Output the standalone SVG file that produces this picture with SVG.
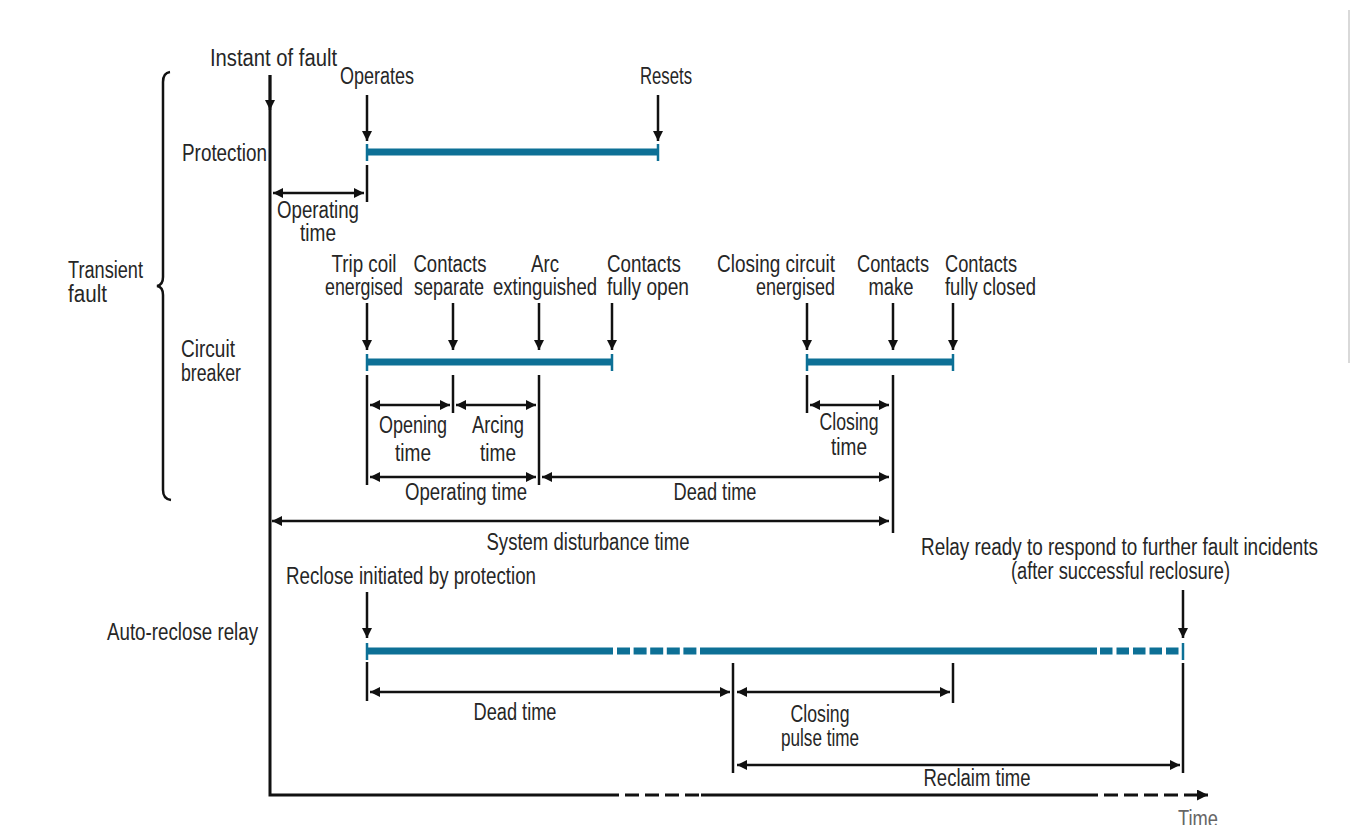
<svg xmlns="http://www.w3.org/2000/svg" width="1356" height="825" viewBox="0 0 1356 825">
<defs>
<style>
text{font-family:"Liberation Sans","DejaVu Sans",sans-serif;font-size:23px;fill:#262626;lengthAdjust:spacingAndGlyphs}
.m{text-anchor:middle}
.e{text-anchor:end}
.ln{stroke:#111;stroke-width:2.5;fill:none}
.ax{stroke:#111;stroke-width:3;fill:none}
.dn{stroke:#111;stroke-width:2.5;fill:none;marker-end:url(#ah)}
.dbl{stroke:#111;stroke-width:2.5;fill:none;marker-start:url(#ahs);marker-end:url(#ah)}
.bar{stroke:#0d7096;stroke-width:7;fill:none}
.tk{stroke:#0d7096;stroke-width:2.5;fill:none}
</style>
<marker id="ah" viewBox="0 0 10 10" refX="10" refY="5" markerWidth="14" markerHeight="10" markerUnits="userSpaceOnUse" orient="auto"><path d="M0,0 L10,5 L0,10 Z" fill="#111"/></marker>
<marker id="ahs" viewBox="0 0 10 10" refX="0" refY="5" markerWidth="14" markerHeight="10" markerUnits="userSpaceOnUse" orient="auto"><path d="M10,0 L0,5 L10,10 Z" fill="#111"/></marker>
<marker id="ahd" viewBox="0 0 10 10" refX="10" refY="5" markerWidth="16" markerHeight="11" markerUnits="userSpaceOnUse" orient="auto"><path d="M0,0 L10,5 L0,10 Z" fill="#111"/></marker>
</defs>
<rect width="1356" height="825" fill="#ffffff"/>
<line x1="1349" y1="10" x2="1349" y2="363" stroke="#d9d9d9" stroke-width="2"/>

<g id="connectors">
  <!-- axes -->
  <path class="ax" d="M270,75 V795 H605"/>
  <path class="ax" d="M605,795 H701" stroke-dasharray="14,6"/>
  <path class="ax" d="M701,795 H1084"/>
  <path class="ax" d="M1084,795 H1208" stroke-dasharray="14,6" style="marker-end:url(#ahd)"/>
  <!-- brace -->
  <path class="ln" d="M170,72 Q163,73 163,82 L163,277 Q163,285 157,286 Q163,287 163,295 L163,490 Q163,499 171,500"/>
  <!-- down arrows -->
  <line class="dn" x1="270" y1="75" x2="270" y2="110"/>
  <line class="dn" x1="367" y1="95" x2="367" y2="141"/>
  <line class="dn" x1="658" y1="95" x2="658" y2="141"/>
  <line class="dn" x1="367" y1="303" x2="367" y2="350"/>
  <line class="dn" x1="453" y1="303" x2="453" y2="350"/>
  <line class="dn" x1="539" y1="303" x2="539" y2="350"/>
  <line class="dn" x1="612" y1="303" x2="612" y2="350"/>
  <line class="dn" x1="807" y1="303" x2="807" y2="350"/>
  <line class="dn" x1="893" y1="303" x2="893" y2="350"/>
  <line class="dn" x1="953" y1="303" x2="953" y2="350"/>
  <line class="dn" x1="367" y1="592" x2="367" y2="638"/>
  <line class="dn" x1="1183" y1="590" x2="1183" y2="638"/>
  <!-- blue bars -->
  <line class="bar" x1="367" y1="152" x2="658" y2="152"/>
  <line class="tk" x1="367" y1="144" x2="367" y2="161"/>
  <line class="tk" x1="658" y1="144" x2="658" y2="161"/>
  <line class="bar" x1="367" y1="362" x2="612" y2="362"/>
  <line class="tk" x1="367" y1="354" x2="367" y2="371"/>
  <line class="tk" x1="612" y1="354" x2="612" y2="371"/>
  <line class="bar" x1="807" y1="362" x2="953" y2="362"/>
  <line class="tk" x1="807" y1="354" x2="807" y2="371"/>
  <line class="tk" x1="953" y1="354" x2="953" y2="371"/>
  <line class="bar" x1="367" y1="651" x2="613" y2="651"/>
  <line class="bar" x1="617" y1="651" x2="697" y2="651" stroke-dasharray="13,3.6"/>
  <line class="bar" x1="700" y1="651" x2="1097" y2="651"/>
  <line class="bar" x1="1100" y1="651" x2="1183" y2="651" stroke-dasharray="12.5,4"/>
  <line class="tk" x1="367" y1="643" x2="367" y2="660"/>
  <line class="tk" x1="1183" y1="643" x2="1183" y2="660"/>
  <!-- verticals -->
  <line class="ln" x1="367" y1="165" x2="367" y2="202"/>
  <line class="ln" x1="367" y1="375" x2="367" y2="485"/>
  <line class="ln" x1="453" y1="375" x2="453" y2="413"/>
  <line class="ln" x1="539" y1="375" x2="539" y2="485"/>
  <line class="ln" x1="807" y1="375" x2="807" y2="413"/>
  <line class="ln" x1="893" y1="375" x2="893" y2="533"/>
  <line class="ln" x1="367" y1="662" x2="367" y2="701" stroke-width="3"/>
  <line class="ln" x1="733" y1="663" x2="733" y2="773" stroke-width="2"/>
  <line class="ln" x1="953" y1="663" x2="953" y2="703" stroke-width="2"/>
  <line class="ln" x1="1183" y1="663" x2="1183" y2="773" stroke-width="2"/>
  <!-- double arrows -->
  <line class="dbl" x1="273" y1="193" x2="364" y2="193"/>
  <line class="dbl" x1="370" y1="405" x2="450" y2="405"/>
  <line class="dbl" x1="456" y1="405" x2="536" y2="405"/>
  <line class="dbl" x1="810" y1="405" x2="889" y2="405"/>
  <line class="dbl" x1="370" y1="477" x2="536" y2="477"/>
  <line class="dbl" x1="542" y1="477" x2="889" y2="477"/>
  <line class="dbl" x1="272" y1="521" x2="889" y2="521"/>
  <line class="dbl" x1="370" y1="692" x2="730" y2="692" stroke-width="1.8"/>
  <line class="dbl" x1="737" y1="692" x2="950" y2="692"/>
  <line class="dbl" x1="737" y1="765" x2="1180" y2="765" stroke-width="1.8"/>
</g>

<g id="labels-left">
  <text x="68" y="278" textLength="75" lengthAdjust="spacingAndGlyphs">Transient</text>
  <text x="68" y="302" textLength="39" lengthAdjust="spacingAndGlyphs">fault</text>
  <text x="182" y="161" textLength="85" lengthAdjust="spacingAndGlyphs">Protection</text>
  <text x="181" y="357" textLength="54" lengthAdjust="spacingAndGlyphs">Circuit</text>
  <text x="181" y="381" textLength="60" lengthAdjust="spacingAndGlyphs">breaker</text>
  <text x="107" y="640" textLength="151" lengthAdjust="spacingAndGlyphs">Auto-reclose relay</text>
</g>
<g id="node-instant"><text x="210" y="66" textLength="127" lengthAdjust="spacingAndGlyphs">Instant of fault</text></g>
<g id="node-operates"><text x="340" y="84" textLength="74" lengthAdjust="spacingAndGlyphs">Operates</text></g>
<g id="node-resets"><text x="640" y="84" textLength="52" lengthAdjust="spacingAndGlyphs">Resets</text></g>
<g id="node-prot-optime">
  <text class="m" x="318" y="218" textLength="82" lengthAdjust="spacingAndGlyphs">Operating</text>
  <text class="m" x="318" y="241" textLength="36" lengthAdjust="spacingAndGlyphs">time</text>
</g>
<g id="node-tripcoil">
  <text class="m" x="364" y="272" textLength="65" lengthAdjust="spacingAndGlyphs">Trip coil</text>
  <text class="m" x="364" y="295" textLength="78" lengthAdjust="spacingAndGlyphs">energised</text>
</g>
<g id="node-separate">
  <text class="m" x="450" y="272" textLength="73" lengthAdjust="spacingAndGlyphs">Contacts</text>
  <text class="m" x="449" y="295" textLength="70" lengthAdjust="spacingAndGlyphs">separate</text>
</g>
<g id="node-arc">
  <text class="m" x="545" y="272" textLength="28" lengthAdjust="spacingAndGlyphs">Arc</text>
  <text class="m" x="545" y="295" textLength="104" lengthAdjust="spacingAndGlyphs">extinguished</text>
</g>
<g id="node-fullyopen">
  <text x="607" y="272" textLength="74" lengthAdjust="spacingAndGlyphs">Contacts</text>
  <text x="607" y="295" textLength="82" lengthAdjust="spacingAndGlyphs">fully open</text>
</g>
<g id="node-closingcircuit">
  <text class="e" x="835" y="272" textLength="118" lengthAdjust="spacingAndGlyphs">Closing circuit</text>
  <text class="e" x="835" y="295" textLength="79" lengthAdjust="spacingAndGlyphs">energised</text>
</g>
<g id="node-make">
  <text class="m" x="893" y="272" textLength="72" lengthAdjust="spacingAndGlyphs">Contacts</text>
  <text class="m" x="891" y="295" textLength="45" lengthAdjust="spacingAndGlyphs">make</text>
</g>
<g id="node-fullyclosed">
  <text x="945" y="272" textLength="72" lengthAdjust="spacingAndGlyphs">Contacts</text>
  <text x="945" y="295" textLength="91" lengthAdjust="spacingAndGlyphs">fully closed</text>
</g>
<g id="node-opening">
  <text class="m" x="413" y="433" textLength="68" lengthAdjust="spacingAndGlyphs">Opening</text>
  <text class="m" x="413" y="461" textLength="36" lengthAdjust="spacingAndGlyphs">time</text>
</g>
<g id="node-arcing">
  <text class="m" x="498" y="433" textLength="52" lengthAdjust="spacingAndGlyphs">Arcing</text>
  <text class="m" x="498" y="461" textLength="36" lengthAdjust="spacingAndGlyphs">time</text>
</g>
<g id="node-closing">
  <text class="m" x="849" y="430" textLength="59" lengthAdjust="spacingAndGlyphs">Closing</text>
  <text class="m" x="849" y="455" textLength="36" lengthAdjust="spacingAndGlyphs">time</text>
</g>
<g id="node-cb-optime"><text class="m" x="466" y="500" textLength="122" lengthAdjust="spacingAndGlyphs">Operating time</text></g>
<g id="node-cb-dead"><text class="m" x="715" y="500" textLength="83" lengthAdjust="spacingAndGlyphs">Dead time</text></g>
<g id="node-sysdist"><text class="m" x="588" y="550" textLength="203" lengthAdjust="spacingAndGlyphs">System disturbance time</text></g>
<g id="node-relayready">
  <text x="921" y="555" textLength="397" lengthAdjust="spacingAndGlyphs">Relay ready to respond to further fault incidents</text>
  <text x="1011" y="579" textLength="219" lengthAdjust="spacingAndGlyphs">(after successful reclosure)</text>
</g>
<g id="node-reclose"><text x="286" y="584" textLength="250" lengthAdjust="spacingAndGlyphs">Reclose initiated by protection</text></g>
<g id="node-ar-dead"><text class="m" x="515" y="720" textLength="83" lengthAdjust="spacingAndGlyphs">Dead time</text></g>
<g id="node-pulse">
  <text class="m" x="820" y="722" textLength="59" lengthAdjust="spacingAndGlyphs">Closing</text>
  <text class="m" x="820" y="746" textLength="78" lengthAdjust="spacingAndGlyphs">pulse time</text>
</g>
<g id="node-reclaim"><text class="m" x="977" y="786" textLength="107" lengthAdjust="spacingAndGlyphs">Reclaim time</text></g>
<g id="node-time"><text class="m" x="1198" y="827" textLength="40" lengthAdjust="spacingAndGlyphs" style="fill:#666">Time</text></g>
</svg>
